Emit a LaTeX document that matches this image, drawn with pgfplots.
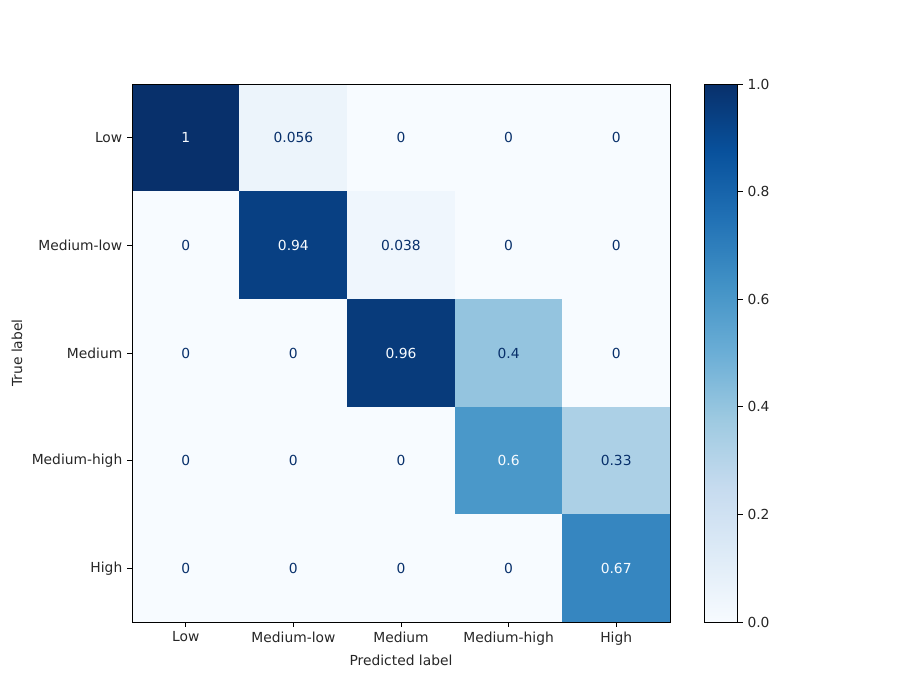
\documentclass[border=0pt]{standalone}
\usepackage{pgfplots}
\pgfplotsset{compat=1.18}
\usepgfplotslibrary{colorbrewer}
\usepackage{fontspec}
\setmainfont{DejaVu Sans}

\definecolor{txtdark}{HTML}{08306B}
\definecolor{txtlight}{HTML}{F7FBFF}
\definecolor{labgray}{HTML}{262626}

\pgfplotstableread{
x y C
0 0 1
1 0 0.056
2 0 0
3 0 0
4 0 0
0 1 0
1 1 0.94
2 1 0.038
3 1 0
4 1 0
0 2 0
1 2 0
2 2 0.96
3 2 0.4
4 2 0
0 3 0
1 3 0
2 3 0
3 3 0.6
4 3 0.33
0 4 0
1 4 0
2 4 0
3 4 0
4 4 0.67
}\cmdata

% labels on light cells
\pgfplotstableread{
x y lab
1 0 0.056
2 0 0
3 0 0
4 0 0
0 1 0
2 1 0.038
3 1 0
4 1 0
0 2 0
1 2 0
3 2 0.4
4 2 0
0 3 0
1 3 0
2 3 0
4 3 0.33
0 4 0
1 4 0
2 4 0
3 4 0
}\darklabels

% labels on dark cells
\pgfplotstableread{
x y lab
0 0 1
1 1 0.94
2 2 0.96
3 3 0.6
4 4 0.67
}\lightlabels

\begin{document}
\fontsize{10}{12}\selectfont
\begin{tikzpicture}
\path[use as bounding box] (-1.32in,-0.78in) rectangle (7.68in,6.22in);
\begin{axis}[
    scale only axis,
    width=5.38in, height=5.38in,
    xmin=-0.5, xmax=4.5, ymin=-0.5, ymax=4.5,
    y dir=reverse,
    axis on top,
    colormap/Blues,
    point meta min=0, point meta max=1,
    xtick={0,1,2,3,4}, ytick={0,1,2,3,4},
    xticklabels={Low,Medium-low,Medium,Medium-high,High},
    yticklabels={Low,Medium-low,Medium,Medium-high,High},
    tick align=outside, xtick pos=bottom, ytick pos=left,
    major tick length=3.5pt,
    tick style={black, line width=0.6pt},
    axis line style={line width=0.6pt},
    ticklabel style={font=\fontsize{10}{12}\selectfont, text=labgray},
    xlabel={Predicted label}, ylabel={True label},
    label style={font=\fontsize{10}{12}\selectfont, text=labgray},
    colorbar,
    colorbar/width=0.33in,
    colorbar style={
        scale only axis,
        at={(parent axis.north east)}, anchor=north west,
        xshift=0.23in, width=0.33in, height=5.38in,
        ytick={0,0.2,0.4,0.6,0.8,1},
        yticklabel style={/pgf/number format/fixed,
            /pgf/number format/fixed zerofill,
            /pgf/number format/precision=1,
            font=\fontsize{10}{12}\selectfont, text=labgray},
        /pgf/number format/assume math mode=true,
        tick align=outside, major tick length=3.5pt,
        ytick pos=right,
        axis line style={line width=0.6pt},
    },
]
\addplot[matrix plot*, mesh/cols=5, point meta=explicit]
    table[x=x, y=y, meta=C] {\cmdata};
\addplot[draw=none, mark=none, point meta=explicit symbolic,
    nodes near coords, nodes near coords align=center,
    every node near coord/.style={text=txtdark, font=\fontsize{10}{12}\selectfont}]
    table[x=x, y=y, meta=lab] {\darklabels};
\addplot[draw=none, mark=none, point meta=explicit symbolic,
    nodes near coords, nodes near coords align=center,
    every node near coord/.style={text=txtlight, font=\fontsize{10}{12}\selectfont}]
    table[x=x, y=y, meta=lab] {\lightlabels};
\end{axis}
\end{tikzpicture}
\end{document}
